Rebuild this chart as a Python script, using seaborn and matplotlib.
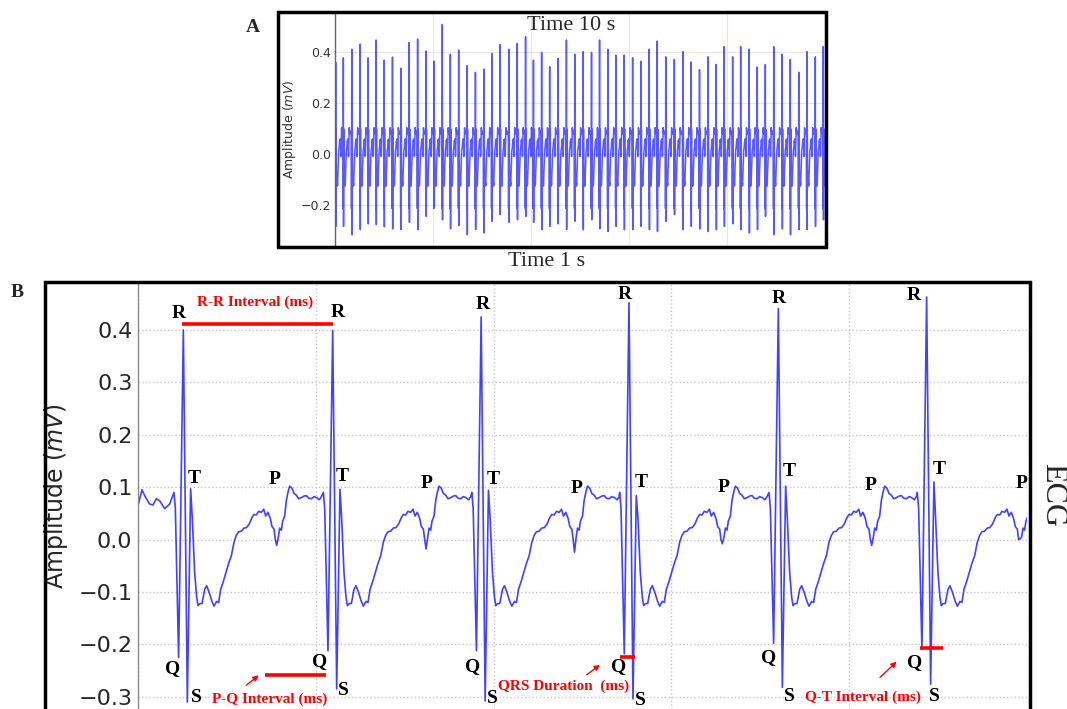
import numpy as np
import pandas as pd
import matplotlib
matplotlib.use("Agg")
import matplotlib.pyplot as plt
import seaborn as sns
from matplotlib.patches import Rectangle

sns.set_theme(style="whitegrid")
plt.rcParams['font.family'] = ['DejaVu Sans']
plt.rcParams['mathtext.fontset'] = 'dejavusans'
plt.rcParams['axes.unicode_minus'] = True

SERIF = 'Liberation Serif'

# ------------------------------------------------------------------
# One heart cycle (seconds from the R peak, mV).
# Q, R, S, T and the P-dip slots are filled per beat.
# ------------------------------------------------------------------
cycle_dt = [-0.0105, -0.0090, -0.0053, 0.0, 0.0045, 0.0082, 0.0101, 0.0127, 0.0150, 0.0165,
            0.0187, 0.0210, 0.0240, 0.0262, 0.0289, 0.0322, 0.0345, 0.0375, 0.0397, 0.0420,
            0.0450, 0.0484, 0.0510, 0.0540, 0.0570, 0.0596, 0.0622, 0.0652, 0.0682, 0.0712,
            0.0742, 0.0772, 0.0795, 0.0821, 0.0847, 0.0877, 0.0904, 0.0926, 0.0952, 0.0979,
            0.0997, 0.1020, 0.1035, 0.1050, 0.1069, 0.1084, 0.1102, 0.1117, 0.1140, 0.1159,
            0.1177, 0.1196, 0.1222, 0.1245, 0.1270, 0.1297, 0.1327, 0.1357, 0.1384, 0.1410,
            0.1440, 0.1470, 0.1500, 0.1530, 0.1552]
cycle_v = [0.090, 0.060, np.nan, np.nan, np.nan, np.nan, 0.040, -0.062, -0.110, -0.126,
           -0.122, -0.122, -0.095, -0.088, -0.100, -0.118, -0.127, -0.118, -0.120, -0.095,
           -0.080, -0.060, -0.045, -0.031, -0.005, 0.008, 0.015, 0.016, 0.022, 0.023,
           0.030, 0.042, 0.048, 0.047, 0.054, 0.052, 0.058, 0.045, 0.052, 0.040,
           0.025, 0.020, 0.000, np.nan, 0.005, 0.022, 0.018, 0.035, 0.045, 0.075,
           0.090, 0.102, 0.098, 0.088, 0.085, 0.078, 0.080, 0.083, 0.084, 0.079,
           0.078, 0.082, 0.080, 0.076, 0.082]
IQ, IR, IS, IT, IP = 2, 3, 4, 5, 43

# ------------------------------------------------------------------
# Panel B : 1 s
# ------------------------------------------------------------------
b_lead_t = [0.0, 0.0045, 0.0075, 0.013, 0.0169, 0.0206, 0.0244, 0.030, 0.0356]
b_lead_v = [0.065, 0.095, 0.084, 0.068, 0.066, 0.078, 0.074, 0.059, 0.068]
b_r_time = [0.051, 0.219, 0.386, 0.5523, 0.7203, 0.8871]
b_r_amp = [0.400, 0.399, 0.425, 0.452, 0.441, 0.463]
b_q_amp = [-0.225, -0.212, -0.212, -0.218, -0.198, -0.209]
b_s_amp = [-0.310, -0.285, -0.308, -0.304, -0.282, -0.276]
b_t_amp = [0.097, 0.096, 0.094, 0.084, 0.102, 0.110]
b_p_dip = [-0.011, -0.018, -0.024, -0.008, -0.011, 0.001]

# wave labels (t, mV) in panel B
lab_R = ([0.046, 0.2246, 0.3877, 0.5478, 0.7205, 0.873], [0.432, 0.433, 0.448, 0.467, 0.461, 0.466])
lab_T = ([0.0636, 0.2298, 0.3997, 0.5655, 0.7323, 0.901], [0.116, 0.121, 0.114, 0.109, 0.130, 0.134])
lab_Q = ([0.0394, 0.2039, 0.3765, 0.5403, 0.709, 0.874], [-0.246, -0.233, -0.243, -0.243, -0.225, -0.235])
lab_S = ([0.0652, 0.2309, 0.3985, 0.5655, 0.7323, 0.8957], [-0.302, -0.288, -0.303, -0.307, -0.300, -0.300])
lab_P = ([0.154, 0.3247, 0.4935, 0.6584, 0.8245, 0.994], [0.114, 0.107, 0.098, 0.100, 0.104, 0.107])

# interval annotations: text, text pos, bar (t0, t1, mV), arrow (from, to)
interval_names = ["R-R Interval (ms)", "P-Q Interval (ms)", "QRS Duration  (ms)", "Q-T Interval (ms)"]
interval_text_pos = [(0.132, 0.453), (0.1485, -0.305), (0.4784, -0.279), (0.8155, -0.300)]
interval_bars = [(0.0495, 0.219, 0.412), (0.1425, 0.2117, -0.258), (0.542, 0.559, -0.225), (0.8796, 0.905, -0.2075)]
interval_arrows = [None, ((0.1218, -0.278), (0.1358, -0.259)),
                   ((0.5047, -0.258), (0.5197, -0.239)), ((0.8346, -0.263), (0.8534, -0.233))]

# ------------------------------------------------------------------
# Panel A : 10 s, 60 beats
# ------------------------------------------------------------------
a_r_time = [0.014, 0.170, 0.342, 0.512, 0.675, 0.839, 1.003, 1.173, 1.345, 1.515,
            1.686, 1.858, 2.022, 2.190, 2.354, 2.524, 2.696, 2.866, 3.037, 3.200,
            3.368, 3.548, 3.720, 3.889, 4.050, 4.217, 4.381, 4.551, 4.723, 4.893,
            5.063, 5.235, 5.399, 5.568, 5.732, 5.902, 6.074, 6.244, 6.413, 6.577,
            6.750, 6.925, 7.100, 7.267, 7.439, 7.612, 7.779, 7.943, 8.115, 8.279,
            8.453, 8.618, 8.782, 8.954, 9.126, 9.292, 9.464, 9.630, 9.802, 9.965]
a_r_amp = [0.358, 0.376, 0.410, 0.430, 0.376, 0.446, 0.367, 0.379, 0.335, 0.437,
           0.450, 0.403, 0.363, 0.507, 0.390, 0.407, 0.345, 0.319, 0.332, 0.393,
           0.428, 0.410, 0.433, 0.459, 0.367, 0.397, 0.341, 0.374, 0.446, 0.390,
           0.400, 0.397, 0.446, 0.410, 0.387, 0.387, 0.376, 0.363, 0.410, 0.442,
           0.380, 0.370, 0.400, 0.360, 0.330, 0.380, 0.350, 0.420, 0.380, 0.420,
           0.410, 0.340, 0.350, 0.420, 0.390, 0.370, 0.320, 0.400, 0.380, 0.420]
a_s_amp = [-0.285, -0.285, -0.318, -0.298, -0.275, -0.278, -0.287, -0.295, -0.298, -0.269,
           -0.298, -0.246, -0.204, -0.259, -0.295, -0.282, -0.318, -0.298, -0.311, -0.265,
           -0.239, -0.269, -0.259, -0.246, -0.269, -0.298, -0.285, -0.275, -0.298, -0.265,
           -0.298, -0.259, -0.295, -0.305, -0.285, -0.298, -0.298, -0.285, -0.298, -0.305,
           -0.265, -0.239, -0.298, -0.285, -0.295, -0.305, -0.298, -0.285, -0.275, -0.298,
           -0.311, -0.298, -0.246, -0.318, -0.295, -0.318, -0.298, -0.298, -0.285, -0.259]
a_q_amp = -0.215
a_t_amp = 0.097
a_p_dip = -0.011


def build_trace(r_time, r_amp, q_amp, s_amp, t_amp, p_dip, lead_t=(), lead_v=()):
    n = len(r_time)
    q_amp, s_amp, t_amp, p_dip = (np.broadcast_to(np.asarray(a, float), (n,))
                                  for a in (q_amp, s_amp, t_amp, p_dip))
    ts, vs = [np.asarray(lead_t, float)], [np.asarray(lead_v, float)]
    for k in range(n):
        vals = np.array(cycle_v, float)
        vals[IQ], vals[IR], vals[IS], vals[IT], vals[IP] = q_amp[k], r_amp[k], s_amp[k], t_amp[k], p_dip[k]
        tt = r_time[k] + np.array(cycle_dt)
        if k + 1 < n:
            keep = tt < r_time[k + 1] + cycle_dt[0]
            tt, vals = tt[keep], vals[keep]
        ts.append(tt)
        vs.append(vals)
    return pd.DataFrame({"t": np.concatenate(ts), "mV": np.concatenate(vs)})


ecg_b = build_trace(b_r_time, b_r_amp, b_q_amp, b_s_amp, b_t_amp, b_p_dip, b_lead_t, b_lead_v)
ecg_a = build_trace(a_r_time, a_r_amp, a_q_amp, a_s_amp, a_t_amp, a_p_dip)

W, H = 1067, 709
fig = plt.figure(figsize=(W / 100, H / 100), dpi=100)
fig.patch.set_facecolor('white')


def fx(px):
    return px / W


def fy(py):
    return 1 - py / H


# ---------------- panel A ----------------
axA = fig.add_axes([fx(335), fy(245.5), fx(825) - fx(335), fy(13.5) - fy(245.5)])
sns.lineplot(data=ecg_a, x="t", y="mV", ax=axA, estimator=None, sort=False,
             color='#0000ff', lw=1.1, alpha=0.65)
axA.set_xlim(0, 10)
axA.set_ylim(-0.36, 0.55)
axA.set_xticks([0, 2, 4, 6, 8, 10])
axA.set_xticklabels([])
axA.set_yticks([-0.2, 0.0, 0.2, 0.4])
axA.tick_params(axis='y', labelsize=9, labelcolor='#333333', length=0, pad=3)
axA.tick_params(axis='x', length=0)
axA.set_xlabel('')
axA.set_ylabel('Amplitude ($mV$)', fontsize=9, color='#333333', labelpad=2)
axA.grid(True, color='#e6e6e6', lw=0.8, linestyle='-')
for side in ['top', 'right', 'bottom']:
    axA.spines[side].set_visible(False)
axA.spines['left'].set_color('#666666')
axA.spines['left'].set_linewidth(1.0)
axA.set_facecolor('white')

# ---------------- panel B ----------------
axB = fig.add_axes([fx(138), 0.0, fx(1027) - fx(138), fy(282)])
sns.lineplot(data=ecg_b, x="t", y="mV", ax=axB, estimator=None, sort=False,
             color='#2020ff', lw=1.2, alpha=0.85)
axB.set_xlim(0, 1)
axB.set_ylim(-0.3233, 0.4916)
axB.set_xticks([0, 0.2, 0.4, 0.6, 0.8, 1.0])
axB.set_xticklabels([])
axB.set_yticks([-0.3, -0.2, -0.1, 0.0, 0.1, 0.2, 0.3, 0.4])
axB.tick_params(axis='y', labelsize=16, labelcolor='#262626', length=0, pad=4)
axB.tick_params(axis='x', length=0)
axB.set_xlabel('')
axB.set_ylabel('Amplitude ($mV$)', fontsize=17, color='#262626', labelpad=6)
axB.grid(True, color='#c4c4c4', lw=1.0, linestyle=':')
for side in ['top', 'right', 'bottom']:
    axB.spines[side].set_visible(False)
axB.spines['left'].set_color('#8a8a8a')
axB.spines['left'].set_linewidth(1.0)
axB.set_facecolor('white')

label_font = dict(family=SERIF, fontweight='bold', fontsize=14, color='black',
                  ha='center', va='center')
for letter, (lt, lv) in zip("RTQSP", [lab_R, lab_T, lab_Q, lab_S, lab_P]):
    for t0, v0 in zip(lt, lv):
        axB.text(t0, v0, letter, **label_font)

for name, (tx, ty), (b0, b1, bv), arr in zip(interval_names, interval_text_pos,
                                              interval_bars, interval_arrows):
    axB.plot([b0, b1], [bv, bv], color='#ff0000', lw=2.6, solid_capstyle='butt', zorder=5)
    axB.text(tx, ty, name, family=SERIF, fontweight='bold', fontsize=11,
             color='#ff0000', ha='center', va='center', zorder=6)
    if arr is not None:
        axB.annotate('', xy=arr[1], xytext=arr[0],
                     arrowprops=dict(arrowstyle='-|>', color='#ff0000', lw=1.0,
                                     mutation_scale=8, shrinkA=0, shrinkB=0))

# ---------------- frames and panel texts ----------------
fig.add_artist(Rectangle((fx(278), fy(247)), fx(826) - fx(278), fy(12) - fy(247),
                         transform=fig.transFigure, fill=False, edgecolor='black',
                         lw=2.5, zorder=20))
fig.add_artist(Rectangle((fx(45), -0.1), fx(1030) - fx(45), fy(282) + 0.1,
                         transform=fig.transFigure, fill=False, edgecolor='black',
                         lw=2.5, zorder=20, clip_on=False))

fig.text(fx(571), fy(25.5), 'Time 10 s', family=SERIF, fontsize=16, ha='center', va='center')
fig.text(fx(547), fy(262), 'Time 1 s', family=SERIF, fontsize=16, ha='center', va='center')
fig.text(fx(253), fy(27), 'A', family=SERIF, fontweight='bold', fontsize=14, ha='center', va='center')
fig.text(fx(17.5), fy(292.5), 'B', family=SERIF, fontweight='bold', fontsize=14, ha='center', va='center')
fig.text(fx(1052.5), fy(495), 'ECG', family=SERIF, fontsize=23, ha='center', va='center', rotation=-90)

fig.savefig("out.png", dpi=100, facecolor='white')
